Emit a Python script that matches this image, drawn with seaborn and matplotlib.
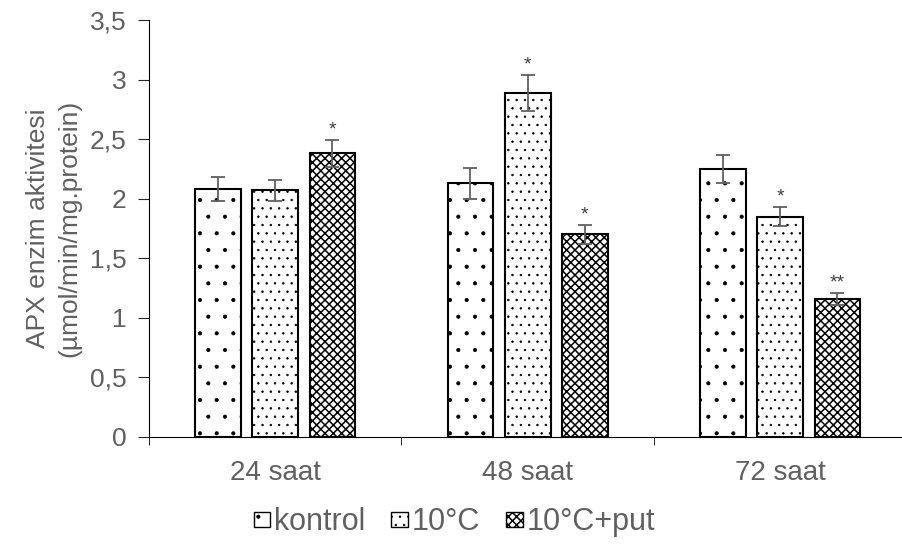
import pandas as pd
import matplotlib
matplotlib.use('Agg')
import matplotlib.pyplot as plt
import matplotlib.patches as mpatches
from matplotlib.ticker import FuncFormatter
import seaborn as sb

times = ['24 saat', '48 saat', '72 saat']
groups = ['kontrol', '10°C', '10°C+put']
kontrol = [2.08, 2.13, 2.25]
soguk = [2.07, 2.89, 1.85]
soguk_put = [2.38, 1.70, 1.16]
err_kontrol = [0.10, 0.13, 0.12]
err_soguk = [0.09, 0.15, 0.08]
err_soguk_put = [0.11, 0.08, 0.05]
stars_kontrol = ['', '', '']
stars_soguk = ['', '*', '*']
stars_soguk_put = ['*', '*', '**']

gray = '#606060'
hatches = ['.', '..', 'xxxx']
hatch_lw = [0.5, 0.5, 1.1]

rows = []
for g, vals in zip(groups, [kontrol, soguk, soguk_put]):
    for t, v in zip(times, vals):
        rows.append({'time': t, 'group': g, 'value': v})
df = pd.DataFrame(rows)

sb.set_style('ticks')
plt.rcParams['font.family'] = ['Liberation Sans', 'DejaVu Sans']
plt.rcParams['hatch.linewidth'] = 0.5

fig = plt.figure(figsize = (9.03, 5.44), dpi = 100)
ax = fig.add_axes([0.165, 0.197, 0.836, 0.766])

sb.barplot(data = df, x = 'time', y = 'value', hue = 'group', ax = ax,
           width = 0.68, gap = 0.2, errorbar = None,
           palette = ['white'] * 3, edgecolor = 'black', linewidth = 1.5,
           legend = False)

errs = [err_kontrol, err_soguk, err_soguk_put]
stars = [stars_kontrol, stars_soguk, stars_soguk_put]
bar_conts = list(ax.containers)
for i, cont in enumerate(bar_conts):
    for j, bar in enumerate(cont):
        bar.set_hatch(hatches[i])
        if hasattr(bar, 'set_hatch_linewidth'):
            bar.set_hatch_linewidth(hatch_lw[i])
        x = bar.get_x() + bar.get_width() / 2
        h = bar.get_height()
        ax.errorbar(x, h, yerr = errs[i][j], color = gray, capsize = 5,
                    elinewidth = 1.3, capthick = 1.3, zorder = 5)
        if stars[i][j]:
            ax.text(x, h + errs[i][j] + 0.015, stars[i][j], ha = 'center',
                    va = 'bottom', fontsize = 14, color = '#404040')

ax.set_ylim(0, 3.5)
ax.set_xlim(-0.5, 2.49)
ax.set_yticks([0, 0.5, 1, 1.5, 2, 2.5, 3, 3.5])
ax.yaxis.set_major_formatter(FuncFormatter(lambda v, p: ('%g' % v).replace('.', ',')))
ax.set_xticks([0, 1, 2])
ax.set_xticks([-0.5, 0.5, 1.5], minor = True)
ax.tick_params(axis = 'x', which = 'major', length = 0, pad = 17, labelsize = 20, labelcolor = gray)
ax.tick_params(axis = 'x', which = 'minor', length = 6, direction = 'out', color = 'black')
ax.tick_params(axis = 'y', length = 8, labelsize = 19, labelcolor = gray, pad = 8)
for s in ['top', 'right']:
    ax.spines[s].set_visible(False)
ax.spines['left'].set_color('black')
ax.spines['bottom'].set_color('black')
ax.set_xlabel('')
ax.set_ylabel('APX enzim aktivitesi\n(µmol/min/mg.protein)', fontsize = 19,
              color = gray, labelpad = 6, linespacing = 1.4)

handles = []
for h, g in zip(hatches, groups):
    p = mpatches.Patch(facecolor = 'white', edgecolor = 'black', hatch = h, label = g)
    handles.append(p)
leg = fig.legend(handles = handles, loc = 'center', bbox_to_anchor = (0.503, 0.04),
                 ncol = 3, frameon = False, fontsize = 22, handlelength = 0.55, handleheight = 0.36,
                 handletextpad = 0.12, columnspacing = 0.85, labelcolor = gray)
for p, lw in zip(leg.get_patches(), hatch_lw):
    if hasattr(p, 'set_hatch_linewidth'):
        p.set_hatch_linewidth(lw)

plt.savefig('out.png', dpi = 100)
